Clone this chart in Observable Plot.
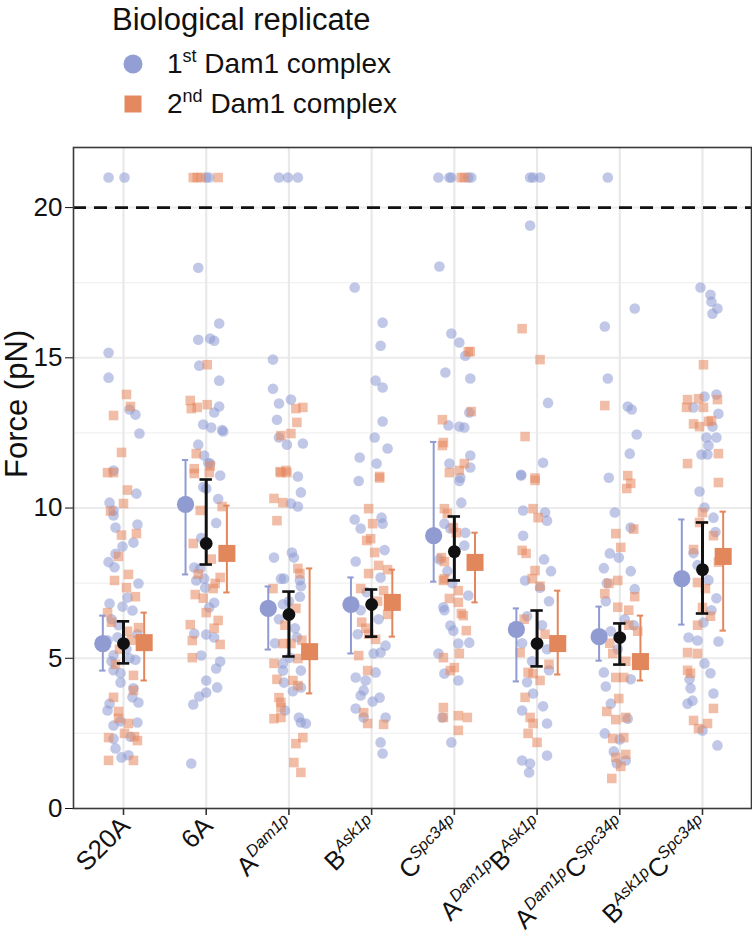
<!DOCTYPE html>
<html><head><meta charset="utf-8">
<script src="https://cdn.jsdelivr.net/npm/d3@7"></script>
<script src="https://cdn.jsdelivr.net/npm/@observablehq/plot@0.6"></script>
<style>
body{margin:0;background:#fff;font-family:"Liberation Sans",Arial,Helvetica,sans-serif;}
#wrap{width:752px;height:940px;overflow:hidden;}
svg{display:block;}
</style></head>
<body><div id="wrap">
<svg id="legend" width="752" height="130" font-family="Liberation Sans, Arial, sans-serif" fill="#111">
  <text x="112" y="30" font-size="31">Biological replicate</text>
  <circle cx="133" cy="64" r="9.5" fill="#939fd4"/>
  <text x="167" y="73" font-size="28">1<tspan dy="-11" font-size="18">st</tspan><tspan dy="11"> Dam1 complex</tspan></text>
  <rect x="124.5" y="95.5" width="17" height="17" fill="#e4895f"/>
  <text x="167" y="113" font-size="28">2<tspan dy="-11" font-size="18">nd</tspan><tspan dy="11"> Dam1 complex</tspan></text>
</svg>
<div id="chart"></div>
</div>
<script>
// Category tick labels ("^" marks the superscript part)
const categories = ["S20A","6A","A^Dam1p","B^Ask1p","C^Spc34p","A^Dam1pB^Ask1p","A^Dam1pC^Spc34p","B^Ask1pC^Spc34p"];
const yTicks = [0,5,10,15,20];
const threshold = 20;

// Summary markers: value, lower, upper
const blueMean   = [5.49,10.12,6.66,6.79,9.08,5.96,5.72,7.65];
const blueLow    = [4.59, 7.79,5.29,5.16,7.55,4.23,4.92,6.12];
const blueHigh   = [6.42,11.60,7.39,7.69,12.20,6.66,6.72,9.62];
const allMean    = [5.49, 8.82,6.46,6.79,8.55,5.49,5.69,7.95];
const allLow     = [4.83, 8.12,5.06,5.72,7.59,4.73,4.79,6.49];
const allHigh    = [6.23,10.95,7.22,7.29,9.72,6.59,6.16,9.52];
const orangeMean = [5.52, 8.49,5.22,6.86,8.19,5.49,4.89,8.39];
const orangeLow  = [4.26, 7.19,3.83,5.72,6.86,4.46,4.26,5.92];
const orangeHigh = [6.52,10.08,7.99,7.95,9.18,7.25,6.42,9.88];

// Individual measurements [jitter (1/83 of a category step), force pN]; >20 pN shown at 21
const blueS20A = [[-15,21],[1,21],[-15,15.17],[-15,14.34],[6,13.28],[12,13.11],[16,12.48],[-10,11.25],[-14,10.18],[13,10.48],[-10,9.92],[-10,9.75],[-8,9.35],[14,9.45],[10,8.85],[-1,8.72],[-8,8.48],[-15,8.2],[-9,8.03],[15,7.49],[4,7.02],[-14,6.82],[-1,6.72],[9,6.59],[-12,6.3],[-5,6.1],[14,5.8],[-16,5.6],[3,5.3],[-10,5.1],[12,4.95],[-12,4.9],[-10,4.6],[-3,4.5],[-3,4.19],[9,3.7],[15,3.53],[-14,3.49],[-16,3.26],[-10,2.76],[14,2.86],[-10,2.32],[7,2.39],[-8,2.0],[-2,1.7],[5,1.77],[-3,2.9],[10,4.0],[6,5.0],[-6,5.7]];
const orangeS20A = [[3,13.78],[7,13.38],[-10,13.08],[-2,11.85],[-16,11.18],[-10,11.18],[4,10.6],[0,10.15],[-13,9.9],[-2,9.1],[13,9.15],[-5,8.39],[5,7.79],[-9,7.59],[3,7.35],[12,7.05],[-16,6.52],[15,6.02],[-12,6.2],[8,5.6],[-4,5.3],[10,4.43],[10,3.93],[-5,3.23],[-5,3.0],[5,2.83],[-15,2.36],[1,2.5],[11,2.39],[14,2.26],[-15,1.6],[10,1.6],[-8,4.8],[4,5.9],[-10,3.7]];
const blue6A = [[0,21],[3,21],[-8,18.0],[13,16.14],[-8,15.6],[4,15.64],[8,15.57],[-7,14.74],[13,14.24],[13,13.38],[8,13.18],[-3,12.78],[5,12.68],[16,12.6],[17,12.55],[-8,12.11],[-2,11.75],[2,11.5],[4,11.48],[14,11.08],[-3,10.7],[0,10.65],[12,10.3],[-12,8.02],[-10,7.59],[-6,7.99],[-2,7.65],[-1,7.35],[3,6.69],[8,6.85],[-12,5.82],[0,5.79],[8,5.69],[-5,5.09],[14,4.89],[10,4.66],[0,4.26],[11,4.03],[-7,3.73],[0,3.86],[-13,3.46],[-15,1.5],[-5,9.0],[10,9.5]];
const orange6A = [[-13,21],[-9,21],[-5,21],[12,21],[1,14.77],[-16,13.58],[-15,13.31],[-9,13.35],[1,13.44],[-10,11.81],[-12,11.31],[4,11.4],[-12,11.15],[3,11.18],[-6,9.92],[16,10.05],[-13,8.82],[9,7.49],[7,7.32],[14,7.69],[-11,7.12],[0,6.52],[12,6.26],[-16,6.12],[-14,5.59],[14,5.46],[-14,5.02],[-8,7.8],[5,8.3],[-3,7.0],[8,6.0]];
const blueA = [[-10,21],[-1,21],[9,21],[-16,14.94],[-16,13.97],[-10,13.48],[2,13.61],[-12,12.94],[-10,12.35],[-2,12.11],[14,12.15],[9,11.05],[12,10.52],[2,10.15],[9,10.05],[-15,8.35],[3,8.52],[5,8.35],[-8,7.65],[-5,7.65],[11,7.6],[12,7.4],[11,7.05],[-6,6.8],[-10,6.3],[6,6.0],[-6,4.83],[-6,4.59],[1,5.02],[12,4.59],[-5,4.19],[12,4.03],[-4,3.26],[10,3.03],[12,2.86],[17,2.83],[-14,5.5],[8,5.7],[0,6.9],[4,3.9]];
const orangeA = [[7,13.31],[14,13.35],[8,12.85],[-8,12.41],[2,12.48],[-9,11.21],[-3,11.25],[-8,11.18],[-2,11.18],[-15,10.32],[-6,10.18],[-12,9.58],[9,7.99],[11,7.82],[-16,7.32],[7,6.66],[-6,5.49],[2,5.49],[-15,4.83],[9,4.99],[4,4.26],[9,4.09],[-10,3.69],[-8,3.53],[-8,3.36],[-15,2.99],[-8,3.03],[14,2.36],[7,2.16],[5,1.53],[12,1.2],[-4,6.1],[13,5.6],[-12,4.3]];
const blueB = [[-17,17.34],[11,16.17],[9,15.4],[4,14.24],[11,14.01],[11,12.88],[3,12.35],[16,11.98],[-12,11.68],[5,11.48],[-13,10.9],[-17,9.62],[-11,9.32],[10,9.68],[11,9.48],[-16,8.22],[9,7.69],[-11,6.6],[7,6.3],[2,5.16],[9,5.19],[14,5.42],[-16,4.36],[-6,4.26],[4,4.53],[-11,3.76],[-8,3.93],[8,3.69],[1,3.56],[-16,3.33],[-8,3.03],[14,3.03],[9,2.2],[11,1.83],[-5,7.2],[-14,5.8],[13,8.6]];
const orangeB = [[8,11.05],[8,11.0],[-3,9.98],[1,9.48],[-5,8.92],[-1,8.98],[3,8.52],[7,8.09],[16,7.95],[-3,7.82],[-11,7.32],[12,7.25],[16,6.46],[-6,6.0],[-3,5.8],[4,5.63],[-13,5.09],[-4,4.59],[-8,3.19],[-4,2.83],[12,2.8],[6,6.9],[-10,6.2]];
const blueC = [[-16,21],[-5,21],[-3,21],[14,21],[17,21],[-15,18.04],[-3,15.81],[5,15.51],[11,15.07],[-9,14.51],[16,14.31],[15,13.18],[-6,12.75],[5,12.71],[10,12.68],[16,11.75],[-5,11.48],[16,11.35],[5,10.9],[6,11.01],[7,10.18],[-10,9.48],[-4,9.32],[11,9.18],[10,8.75],[-15,8.29],[-7,7.9],[-2,7.5],[14,7.09],[-11,6.7],[-10,6.6],[-4,6.09],[-1,5.92],[4,5.49],[15,5.52],[-16,5.16],[-10,4.49],[4,4.26],[-12,3.03],[-3,2.2]];
const orangeC = [[7,21],[10,21],[16,15.21],[14,15.2],[17,13.21],[-12,12.94],[-11,12.18],[-12,12.08],[10,11.48],[-5,11.18],[5,11.25],[-10,9.98],[-7,9.82],[-1,9.35],[2,9.18],[-13,8.35],[-10,8.22],[-10,7.65],[-11,7.59],[4,7.25],[-5,6.99],[4,6.86],[7,6.49],[9,6.42],[12,5.92],[-11,5.02],[5,5.16],[-4,4.59],[0,4.69],[-11,3.36],[-11,3.03],[4,3.09],[13,3.03],[4,2.6]];
const blueAB = [[-7,21],[-4,21],[3,21],[-7,19.4],[11,13.5],[6,11.51],[-16,11.11],[-16,11.08],[-14,9.92],[8,9.85],[10,9.58],[-14,9.08],[7,8.29],[-12,7.59],[3,7.35],[12,6.9],[-10,6.4],[5,6.1],[-15,5.5],[10,5.3],[-5,4.9],[12,4.6],[-15,3.26],[-4,3.83],[6,3.4],[10,2.83],[-15,1.6],[-7,1.5],[-8,1.2],[10,1.76],[-10,4.2],[14,7.9]];
const orangeAB = [[-15,15.97],[3,14.94],[-12,12.38],[-2,11.0],[-2,10.92],[-4,9.98],[1,9.68],[-15,8.59],[-11,8.49],[-2,7.92],[-5,7.65],[3,7.4],[-17,5.19],[-9,4.53],[-4,4.49],[3,4.26],[-7,3.03],[-4,2.83],[-9,2.5],[0,2.2],[8,5.8],[-13,6.3],[12,4.8],[-12,3.7]];
const blueAC = [[-12,21],[-15,16.04],[15,16.64],[-12,14.31],[8,13.38],[12,13.28],[17,12.45],[10,11.81],[-11,11.01],[-5,9.85],[11,9.35],[-10,8.49],[-1,8.35],[-16,8.0],[-13,7.5],[11,7.9],[15,7.3],[-14,6.9],[5,6.3],[-9,5.9],[14,6.1],[-2,5.3],[-16,4.53],[-14,4.06],[11,4.3],[-9,3.49],[8,2.99],[-15,2.5],[0,2.3],[-6,1.9],[6,1.6],[-3,1.5]];
const orangeAC = [[-15,13.41],[8,11.08],[11,10.82],[7,10.65],[14,9.3],[-4,9.15],[1,8.69],[-11,7.49],[-2,7.59],[-15,7.15],[-2,6.7],[9,6.6],[15,7.05],[9,6.1],[18,5.9],[-7,5.16],[-4,4.36],[4,4.36],[-1,3.66],[-13,3.23],[-4,2.96],[6,3.03],[-7,2.33],[4,2.36],[6,1.8],[-4,1.7],[1,1.4],[-8,1.0],[-10,5.5],[6,4.9]];
const blueBC = [[-2,17.34],[8,17.1],[9,16.87],[15,16.64],[10,16.47],[2,13.71],[14,13.78],[-9,13.35],[16,13.14],[10,12.71],[4,12.35],[14,12.35],[6,12.08],[-1,11.78],[5,11.78],[-3,10.55],[2,10.02],[11,9.68],[13,9.2],[-9,8.5],[-5,8.1],[6,7.6],[14,7.0],[1,6.19],[-14,5.69],[-5,5.59],[16,5.56],[2,4.83],[8,4.5],[-13,4.3],[-12,4.0],[11,3.83],[-15,3.49],[-10,3.59],[0,2.6],[15,2.1],[9,6.6]];
const orangeBC = [[1,14.77],[-15,13.61],[-4,13.64],[-16,13.35],[1,13.35],[15,13.61],[-9,12.8],[-3,12.71],[6,12.88],[9,12.91],[16,11.81],[-15,11.48],[16,10.85],[0,9.85],[-3,9.52],[11,9.08],[-9,8.62],[-5,7.52],[3,7.32],[0,6.69],[8,6.4],[-5,6.1],[-15,5.19],[-5,5.16],[-15,4.6],[-12,4.5],[11,3.33],[-9,2.93],[-4,2.66],[5,2.83],[16,8.2]];

const blueSets = [blueS20A, blue6A, blueA, blueB, blueC, blueAB, blueAC, blueBC];
const orangeSets = [orangeS20A, orange6A, orangeA, orangeB, orangeC, orangeAB, orangeAC, orangeBC];

const BLUE = "#8e9bd3", ORANGE = "#e6875c", BLUE_M = "#8f9bd1", ORANGE_M = "#e2865c";
const toRows = sets => sets.flatMap((arr, i) => arr.map(([j, v]) => ({x: i + j / 83, y: v})));
const bluePts = toRows(blueSets);
const orangePts = toRows(orangeSets);
const idx = categories.map((c, i) => i);
const OFF = 0.25, CAP = 0.038, CAPB = 0.075;
const summ = (off, m, lo, hi) => idx.map(i => ({x: i + off, m: m[i], lo: lo[i], hi: hi[i]}));
const sBlue = summ(-OFF, blueMean, blueLow, blueHigh);
const sAll = summ(0, allMean, allLow, allHigh);
const sOrange = summ(OFF, orangeMean, orangeLow, orangeHigh);

const xDomain = [-0.6045, 7.5925];
const errMarks = (s, color, w, cap, capW) => [
  Plot.ruleX(s, {x: "x", y1: "lo", y2: "hi", stroke: color, strokeWidth: w}),
  Plot.ruleY(s, {y: "lo", x1: d => d.x - cap, x2: d => d.x + cap, stroke: color, strokeWidth: capW}),
  Plot.ruleY(s, {y: "hi", x1: d => d.x - cap, x2: d => d.x + cap, stroke: color, strokeWidth: capW})
];

const chart = Plot.plot({
  width: 752, height: 810,
  marginTop: 17, marginBottom: 132, marginLeft: 73, marginRight: 1,
  style: {fontFamily: "Liberation Sans, Arial, sans-serif", fontSize: "26px", color: "#111", background: "white"},
  x: {domain: xDomain, axis: null},
  y: {domain: [0, 22], ticks: yTicks, tickSize: 8, tickPadding: 3, label: null, tickFormat: d => String(d)},
  marks: [
    Plot.ruleY(d3.range(2.5, 22, 5), {y: d => d, stroke: "#f1f1f1", strokeWidth: 1.2}),
    Plot.ruleY(yTicks.filter(d => d > 0), {y: d => d, stroke: "#ebebeb", strokeWidth: 2}),
    Plot.ruleX(idx, {x: d => d, stroke: "#e9e9e9", strokeWidth: 2.2}),
    Plot.ruleY([threshold], {y: d => d, stroke: "#111", strokeWidth: 2.6, strokeDasharray: "13,8"}),
    Plot.dot(bluePts, {x: "x", y: "y", r: 5.3, fill: BLUE, fillOpacity: 0.55, stroke: "none"}),
    Plot.dot(orangePts, {x: "x", y: "y", r: 5.4, symbol: "square", fill: ORANGE, fillOpacity: 0.55, stroke: "none"}),
    ...errMarks(sBlue, BLUE_M, 2, CAP, 2),
    ...errMarks(sOrange, ORANGE_M, 2, CAP, 2),
    ...errMarks(sAll, "#111", 3, CAPB, 2.6),
    Plot.dot(sBlue, {x: "x", y: "m", r: 8.6, fill: BLUE_M, stroke: "none"}),
    Plot.dot(sOrange, {x: "x", y: "m", r: 9.6, symbol: "square", fill: ORANGE_M, stroke: "none"}),
    Plot.dot(sAll, {x: "x", y: "m", r: 6.4, fill: "#111", stroke: "none"}),
    Plot.ruleX(idx, {x: d => d, y1: 0, y2: -7 / 30.05, stroke: "#333", strokeWidth: 1.6}),
    Plot.frame({stroke: "#3a3a3a", strokeWidth: 1.6}),
    Plot.text(categories, {x: (d, i) => i, text: d => d, frameAnchor: "bottom", rotate: -45, textAnchor: "end", dx: 8, dy: 19, fontSize: 26, fill: "#111"}),
    Plot.text(["Force (pN)"], {frameAnchor: "left", rotate: -90, dx: -56, fontSize: 31, fill: "#111"})
  ]
});
document.getElementById("chart").appendChild(chart);

// Turn "X^Sup" tick labels into text with superscripts
d3.select(chart).selectAll("text").each(function () {
  const t = this.textContent;
  if (!t.includes("^")) return;
  const sel = d3.select(this);
  sel.text(null);
  const re = /([A-Z0-9]+)\^([A-Z][a-z0-9]+)/g;
  let m, first = true;
  while ((m = re.exec(t))) {
    sel.append("tspan").attr("dy", first ? null : "10").text(m[1]);
    sel.append("tspan").attr("dy", "-10").attr("font-size", 16.5).attr("font-style", "italic").text(m[2]);
    first = false;
  }
});
</script>
</body></html>
